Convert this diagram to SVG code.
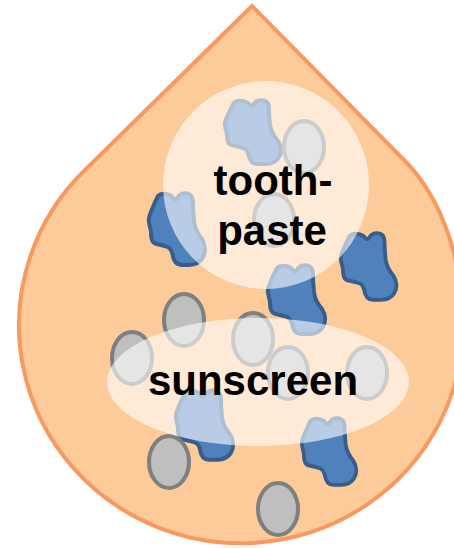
<svg xmlns="http://www.w3.org/2000/svg" xmlns:xlink="http://www.w3.org/1999/xlink" width="454" height="548" viewBox="0 0 454 548">
<style>
.drop{fill:#fdcb99;stroke:#f9995f;stroke-width:4;stroke-linejoin:miter}
.blob{fill:#4f81bd;stroke:#385d8a;stroke-width:4;stroke-linejoin:round}
.grain{fill:#bfbfbf;stroke:#7f7f7f;stroke-width:4}
.zone{fill:#ffffff;fill-opacity:0.6;stroke:none}
.label{font-family:"Liberation Sans",Arial,sans-serif;font-weight:bold;font-size:42px;fill:#000000;text-anchor:middle}
</style>
<defs>
<path id="blobShape" d="M10,4 C13,1 20,1 24,4 C26,6 28,9 30,6 C32,2 37,0 42,2 C46,4 46,8 46,16 L47,28 C48,36 51,40 55,45 C59,51 59,58 56,63 C53,68 48,70 42,70 L34,70 C29,70 26,66 25,60 C24,55 22,53 17,52 L9,50 C4,49 3,45 3,38 C2,32 0,29 1,25 C2,20 6,12 10,4 Z"/>
</defs>
<g id="droplet">
<path class="drop" d="M252,6 L84,171 A222,218 0 1,0 463,325 C463,265 444,200 404,160 Z"/>
</g>
<g id="blue-particles">
<use xlink:href="#blobShape" class="blob" transform="translate(224,99) scale(0.98,0.93)"/>
<use xlink:href="#blobShape" class="blob" transform="translate(148,192) scale(0.98,1.04)"/>
<use xlink:href="#blobShape" class="blob" transform="translate(267,264) scale(1,1)"/>
<use xlink:href="#blobShape" class="blob" transform="translate(340,232) scale(0.97,0.97)"/>
<use xlink:href="#blobShape" class="blob" transform="translate(175,389) scale(1,1.01)"/>
<use xlink:href="#blobShape" class="blob" transform="translate(301,417) scale(0.95,0.97)"/>
</g>
<g id="gray-particles">
<ellipse class="grain" cx="304" cy="147" rx="20" ry="26"/>
<ellipse class="grain" cx="274" cy="220" rx="20" ry="26"/>
<ellipse class="grain" cx="184" cy="320" rx="20" ry="26"/>
<ellipse class="grain" cx="132" cy="358" rx="20" ry="26"/>
<ellipse class="grain" cx="253" cy="339" rx="20" ry="26"/>
<ellipse class="grain" cx="288" cy="373" rx="20" ry="26"/>
<ellipse class="grain" cx="367" cy="373" rx="20" ry="26"/>
<ellipse class="grain" cx="169" cy="462" rx="20" ry="26"/>
<ellipse class="grain" cx="278" cy="509" rx="20" ry="26"/>
</g>
<g id="toothpaste">
<ellipse class="zone" cx="266" cy="185" rx="103" ry="104"/>
<text class="label" x="273" y="195">tooth-</text>
<text class="label" x="272" y="245">paste</text>
</g>
<g id="sunscreen">
<ellipse class="zone" cx="258" cy="382" rx="151" ry="64"/>
<text class="label" x="253" y="395">sunscreen</text>
</g>
<g id="connectors"/>
</svg>
